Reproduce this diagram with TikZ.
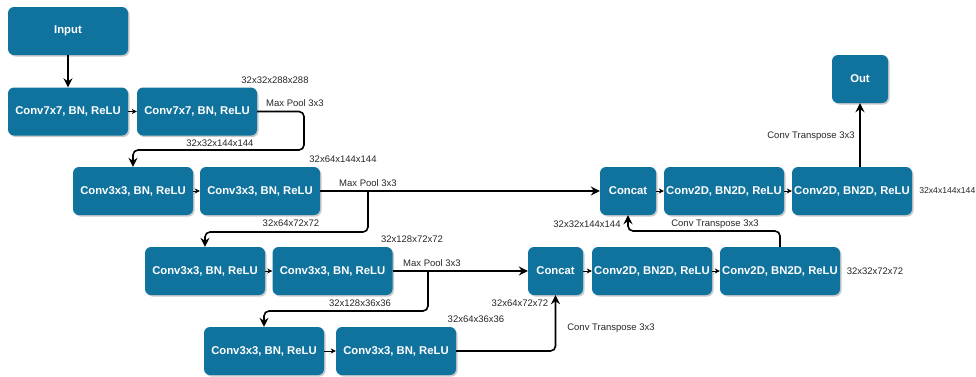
\documentclass[tikz,border=0pt]{standalone}
\usepackage{fontspec}
\setmainfont{Liberation Sans}
\usetikzlibrary{arrows.meta,shadows,calc}
\definecolor{boxblue}{HTML}{10739E}
\tikzset{
  blk/.style={draw=none, fill=boxblue, rounded corners=6pt, minimum height=48pt,
    text=white, font=\fontsize{11.3}{13}\selectfont\bfseries, inner sep=0pt,
    drop shadow={shadow xshift=1.5pt, shadow yshift=-1.5pt, opacity=0.35, fill=black!60}},
  wide/.style={blk, minimum width=120pt},
  narrow/.style={blk, minimum width=56pt},
  lbl/.style={font=\fontsize{9.5}{11}\selectfont, inner sep=0pt, text=black!85},
  thick arr/.style={line width=1.6pt, rounded corners=5pt, -{Stealth[length=9pt,width=9pt,inset=3pt]}},
  thin arr/.style={line width=0.8pt, -{Stealth[length=5pt,width=5pt,inset=1.5pt]}}
}
\begin{document}
\begin{tikzpicture}[x=1pt,y=-1pt]
\useasboundingbox (0,0) rectangle (976,376);
% boxes
\node[wide] (in)  at (68,31)  {Input};
\node[wide] (c11) at (68,111.5) {Conv7x7, BN, ReLU};
\node[wide] (c12) at (197,111.5) {Conv7x7, BN, ReLU};
\node[wide] (c21) at (133,191) {Conv3x3, BN, ReLU};
\node[wide] (c22) at (260,191) {Conv3x3, BN, ReLU};
\node[wide] (c31) at (205,271) {Conv3x3, BN, ReLU};
\node[wide] (c32) at (332.5,271) {Conv3x3, BN, ReLU};
\node[wide] (c41) at (264,351) {Conv3x3, BN, ReLU};
\node[wide] (c42) at (396,351) {Conv3x3, BN, ReLU};
\node[blk, minimum width=55pt] (cat2) at (555.5,271) {Concat};
\node[wide] (d21) at (652,271) {Conv2D, BN2D, ReLU};
\node[wide] (d22) at (780,271) {Conv2D, BN2D, ReLU};
\node[narrow] (cat1) at (628,191) {Concat};
\node[wide] (d11) at (724,191) {Conv2D, BN2D, ReLU};
\node[wide] (d12) at (852,191) {Conv2D, BN2D, ReLU};
\node[narrow] (out) at (860,79) {Out};
% helper coordinates
\coordinate (p1) at (304,111.5);
\coordinate (p2) at (304,150);
\coordinate (b2) at (368,191);
\coordinate (b2d) at (368,232);
\coordinate (b3) at (428,271);
\coordinate (b3d) at (428,311);
\coordinate (u1) at (0,231);
% connectors
\draw[thick arr] (in) -- (c11);
\draw[thin arr] (c11) -- (c12);
\draw[thick arr] (c12.east) -- (p1) -- (p2) -- (p2 -| c21.north) -- (c21.north);
\draw[thin arr] (c21) -- (c22);
\draw[thick arr] (c22.east) -- (cat1.west);
\draw[thick arr] (b2) -- (b2d) -- (b2d -| c31.north) -- (c31.north);
\draw[thin arr] (c31) -- (c32);
\draw[thick arr] (c32.east) -- (cat2.west);
\draw[thick arr] (b3) -- (b3d) -- (b3d -| c41.north) -- (c41.north);
\draw[thin arr] (c41) -- (c42);
\draw[thick arr] (c42.east) -| (cat2.south);
\draw[thin arr] (cat2) -- (d21);
\draw[thin arr] (d21) -- (d22);
\draw[thick arr] (d22.north) -- (d22.north |- u1) -- (cat1.south |- u1) -- (cat1.south);
\draw[thin arr] (cat1) -- (d11);
\draw[thin arr] (d11) -- (d12);
\draw[thick arr] (d12.north -| out.south) -- (out.south);
% labels
\node[lbl] (l1) at (275,80) {32x32x288x288};
\node[lbl] (l2) at (295,103) {Max Pool 3x3};
\node[lbl] (l3) at (220,143.5) {32x32x144x144};
\node[lbl] (l4) at (343,159) {32x64x144x144};
\node[lbl] (l5) at (368,183) {Max Pool 3x3};
\node[lbl] (l6) at (291,223.5) {32x64x72x72};
\node[lbl] (l7) at (412,239.5) {32x128x72x72};
\node[lbl] (l8) at (432,263) {Max Pool 3x3};
\node[lbl] (l9) at (360,303) {32x128x36x36};
\node[lbl] (l10) at (476,319.5) {32x64x36x36};
\node[lbl] (l11) at (520,303) {32x64x72x72};
\node[lbl] (l12) at (611,328) {Conv Transpose 3x3};
\node[lbl] (l13) at (875,271) {32x32x72x72};
\node[lbl] (l14) at (715,224) {Conv Transpose 3x3};
\node[lbl] (l15) at (587,224) {32x32x144x144};
\node[lbl] (l16) at (811,136) {Conv Transpose 3x3};
\node[lbl, anchor=east, font=\fontsize{8.6}{10}\selectfont] (l17) at (975.5,191) {32x4x144x144};
\end{tikzpicture}
\end{document}
